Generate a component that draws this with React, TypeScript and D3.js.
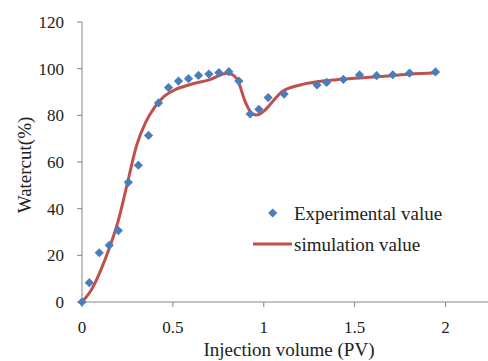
import React from "react";
import * as d3 from "d3";

const expX = [0, 0.04, 0.095, 0.15, 0.2, 0.255, 0.31, 0.366, 0.421, 0.476, 0.531, 0.586, 0.641, 0.698, 0.753, 0.808, 0.863, 0.925, 0.973, 1.024, 1.112, 1.293, 1.346, 1.438, 1.527, 1.621, 1.71, 1.802, 1.945];
const expY = [0, 8.3, 21.1, 24.3, 30.6, 51.3, 58.6, 71.4, 85.3, 91.9, 94.7, 95.7, 97.1, 97.7, 98.3, 98.7, 94.7, 80.6, 82.6, 87.6, 89.1, 93.0, 94.1, 95.4, 97.3, 97.0, 97.4, 98.1, 98.6];

const simX = [0, 0.05, 0.1, 0.15, 0.2, 0.25, 0.3, 0.35, 0.4, 0.45, 0.5, 0.6, 0.7, 0.8, 0.85, 0.9, 0.93, 0.96, 1.0, 1.05, 1.1, 1.2, 1.3, 1.4, 1.5, 1.6, 1.7, 1.8, 1.95];
const simY = [0, 5, 13, 23, 35, 51, 67, 77, 83.5, 88, 90.5, 93.3, 95.2, 98, 95.9, 85.5, 81.2, 80.1, 81.8, 86, 90.1, 93, 94.5, 95.3, 95.9, 96.4, 97, 97.6, 98.2];

const xTicks = [0, 0.5, 1, 1.5, 2];
const yTicks = [0, 20, 40, 60, 80, 100, 120];

const W = 488, H = 361;
const left = 82, top = 22, bottom = 302;

export default function App() {
  const x = d3.scaleLinear().domain([0, 2]).range([left, 445.5]);
  const y = d3.scaleLinear().domain([0, 120]).range([bottom, top]);
  const line = d3.line<number>()
    .x((_, i) => x(simX[i]))
    .y((d) => y(d))
    .curve(d3.curveMonotoneX);
  const axisColor = "#868686";
  const font = "'Liberation Serif', 'Times New Roman', serif";
  const diamond = (cx: number, cy: number, r = 4.6) =>
    `M${cx},${cy - r}L${cx + r},${cy}L${cx},${cy + r}L${cx - r},${cy}Z`;
  return (
    <svg width={W} height={H} style={{ position: "absolute", left: 0, top: 0 }}>
      <rect width={W} height={H} fill="#fff" />
      <line x1={left} x2={left} y1={top} y2={bottom} stroke={axisColor} />
      <line x1={left} x2={W} y1={bottom} y2={bottom} stroke={axisColor} />
      {yTicks.map((t) => (
        <g key={"y" + t}>
          <line x1={left - 5} x2={left} y1={y(t)} y2={y(t)} stroke={axisColor} />
          <text x={64} y={y(t)} dy="0.35em" textAnchor="end" fontFamily={font} fontSize={17} fill="#222">{t}</text>
        </g>
      ))}
      {xTicks.map((t) => (
        <g key={"x" + t}>
          <line x1={x(t)} x2={x(t)} y1={bottom} y2={bottom + 5} stroke={axisColor} />
          <text x={x(t)} y={327} dy="0.35em" textAnchor="middle" fontFamily={font} fontSize={17} fill="#222">{t}</text>
        </g>
      ))}
      <text x={289} y={356} textAnchor="middle" fontFamily={font} fontSize={19} fill="#222">Injection volume (PV)</text>
      <text transform={`translate(24.5,165) rotate(-90)`} dy="0.35em" textAnchor="middle" fontFamily={font} fontSize={19} fill="#222">Watercut(%)</text>
      <path d={line(simY) || ""} fill="none" stroke="#C0504D" strokeWidth={3} />
      {expY.map((v, i) => (
        <path key={"p" + i} d={diamond(x(expX[i]), y(v))} fill="#4A7EBB" />
      ))}
      <path d={diamond(272.7, 213)} fill="#4A7EBB" />
      <text x={294} y={213} dy="0.35em" fontFamily={font} fontSize={19} fill="#222">Experimental value</text>
      <line x1={253} x2={292} y1={244} y2={244} stroke="#C0504D" strokeWidth={3} />
      <text x={294} y={244} dy="0.35em" fontFamily={font} fontSize={19} fill="#222">simulation value</text>
    </svg>
  );
}
